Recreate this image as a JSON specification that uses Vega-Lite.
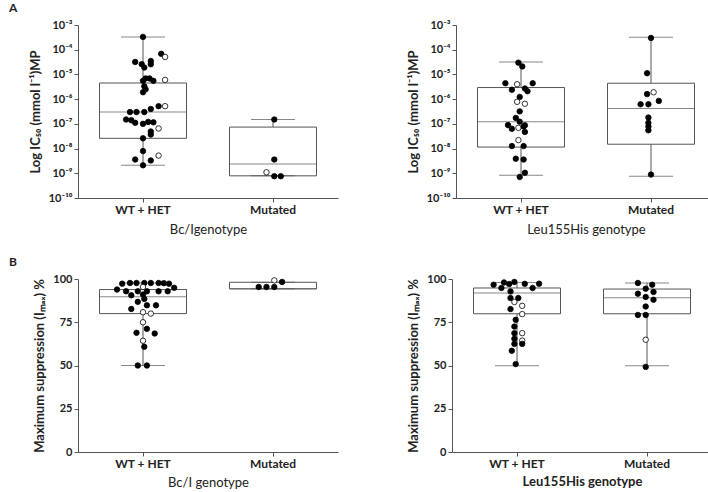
{
  "$schema": "https://vega.github.io/schema/vega-lite/v6.json",
  "padding": {"left": 9, "top": 2, "right": 0, "bottom": 0},
  "config": {
    "font": "Lato",
    "view": {"stroke": null},
    "axis": {"grid": false, "labelFont": "Lato", "labelFontWeight": "bold", "labelFontSize": 11, "labelColor": "#222", "titleFont": "Lato", "titleFontSize": 13, "titleFontWeight": "bold", "titleColor": "#222", "domainColor": "#555", "tickColor": "#555", "tickSize": 4, "labelPadding": 2, "titlePadding": 6},
    "title": {"font": "Lato", "fontSize": 12, "fontWeight": "bold", "color": "#222"},
    "point": {"opacity": 1},
    "concat": {"spacing": 69}
  },
  "datasets": {
    "box": [
      {"panel": "A1", "group": "WT + HET", "min": 2.1e-9, "q1": 2.6e-8, "median": 3.0e-7, "q3": 4.5e-6, "max": 3.3e-4},
      {"panel": "A1", "group": "Mutated", "min": 7.9e-10, "q1": 7.9e-10, "median": 2.4e-9, "q3": 7.4e-8, "max": 1.5e-7},
      {"panel": "A2", "group": "WT + HET", "min": 8.3e-10, "q1": 1.15e-8, "median": 1.23e-7, "q3": 2.95e-6, "max": 3.2e-5},
      {"panel": "A2", "group": "Mutated", "min": 7.6e-10, "q1": 1.5e-8, "median": 4.2e-7, "q3": 4.4e-6, "max": 3.2e-4},
      {"panel": "B1", "group": "WT + HET", "min": 50, "q1": 80, "median": 89.7, "q3": 93.9, "max": 97.7},
      {"panel": "B1", "group": "Mutated", "min": 94.3, "q1": 94.3, "median": 94.3, "q3": 98.1, "max": 98.1},
      {"panel": "B2", "group": "WT + HET", "min": 49.8, "q1": 79.9, "median": 91.9, "q3": 94.8, "max": 98.0},
      {"panel": "B2", "group": "Mutated", "min": 49.8, "q1": 79.9, "median": 89.2, "q3": 94.2, "max": 97.7}
    ],
    "pts": [
      {"panel": "A1", "group": "WT + HET", "jitter": 0.00, "value": 3.3e-4, "marker": "filled"},
      {"panel": "A1", "group": "WT + HET", "jitter": 0.14, "value": 6.8e-5, "marker": "filled"},
      {"panel": "A1", "group": "WT + HET", "jitter": 0.17, "value": 5.1e-5, "marker": "open"},
      {"panel": "A1", "group": "WT + HET", "jitter": -0.06, "value": 3.2e-5, "marker": "filled"},
      {"panel": "A1", "group": "WT + HET", "jitter": -0.01, "value": 2.6e-5, "marker": "filled"},
      {"panel": "A1", "group": "WT + HET", "jitter": 0.01, "value": 1.9e-5, "marker": "filled"},
      {"panel": "A1", "group": "WT + HET", "jitter": 0.06, "value": 3.5e-5, "marker": "filled"},
      {"panel": "A1", "group": "WT + HET", "jitter": 0.06, "value": 2.6e-5, "marker": "filled"},
      {"panel": "A1", "group": "WT + HET", "jitter": 0.17, "value": 6.0e-6, "marker": "open"},
      {"panel": "A1", "group": "WT + HET", "jitter": 0.00, "value": 5.5e-6, "marker": "filled"},
      {"panel": "A1", "group": "WT + HET", "jitter": 0.02, "value": 6.9e-6, "marker": "filled"},
      {"panel": "A1", "group": "WT + HET", "jitter": 0.05, "value": 6.9e-6, "marker": "filled"},
      {"panel": "A1", "group": "WT + HET", "jitter": 0.08, "value": 5.5e-6, "marker": "filled"},
      {"panel": "A1", "group": "WT + HET", "jitter": 0.01, "value": 3.3e-6, "marker": "filled"},
      {"panel": "A1", "group": "WT + HET", "jitter": 0.02, "value": 2.5e-6, "marker": "filled"},
      {"panel": "A1", "group": "WT + HET", "jitter": 0.00, "value": 1.9e-6, "marker": "filled"},
      {"panel": "A1", "group": "WT + HET", "jitter": -0.10, "value": 3.0e-7, "marker": "filled"},
      {"panel": "A1", "group": "WT + HET", "jitter": -0.05, "value": 3.0e-7, "marker": "filled"},
      {"panel": "A1", "group": "WT + HET", "jitter": 0.01, "value": 3.0e-7, "marker": "filled"},
      {"panel": "A1", "group": "WT + HET", "jitter": 0.06, "value": 4.0e-7, "marker": "filled"},
      {"panel": "A1", "group": "WT + HET", "jitter": 0.12, "value": 5.2e-7, "marker": "filled"},
      {"panel": "A1", "group": "WT + HET", "jitter": 0.17, "value": 5.2e-7, "marker": "open"},
      {"panel": "A1", "group": "WT + HET", "jitter": -0.13, "value": 1.5e-7, "marker": "filled"},
      {"panel": "A1", "group": "WT + HET", "jitter": -0.09, "value": 1.4e-7, "marker": "filled"},
      {"panel": "A1", "group": "WT + HET", "jitter": -0.06, "value": 1.1e-7, "marker": "filled"},
      {"panel": "A1", "group": "WT + HET", "jitter": 0.00, "value": 1.0e-7, "marker": "filled"},
      {"panel": "A1", "group": "WT + HET", "jitter": 0.04, "value": 1.2e-7, "marker": "filled"},
      {"panel": "A1", "group": "WT + HET", "jitter": 0.08, "value": 1.15e-7, "marker": "filled"},
      {"panel": "A1", "group": "WT + HET", "jitter": 0.12, "value": 6.5e-8, "marker": "open"},
      {"panel": "A1", "group": "WT + HET", "jitter": 0.06, "value": 4.9e-8, "marker": "filled"},
      {"panel": "A1", "group": "WT + HET", "jitter": 0.06, "value": 3.7e-8, "marker": "filled"},
      {"panel": "A1", "group": "WT + HET", "jitter": 0.00, "value": 2.6e-8, "marker": "filled"},
      {"panel": "A1", "group": "WT + HET", "jitter": 0.00, "value": 7.9e-9, "marker": "filled"},
      {"panel": "A1", "group": "WT + HET", "jitter": -0.06, "value": 3.6e-9, "marker": "filled"},
      {"panel": "A1", "group": "WT + HET", "jitter": 0.06, "value": 3.3e-9, "marker": "filled"},
      {"panel": "A1", "group": "WT + HET", "jitter": 0.12, "value": 5.2e-9, "marker": "open"},
      {"panel": "A1", "group": "WT + HET", "jitter": 0.00, "value": 2.1e-9, "marker": "filled"},
      {"panel": "A1", "group": "Mutated", "jitter": 0.01, "value": 1.5e-7, "marker": "filled"},
      {"panel": "A1", "group": "Mutated", "jitter": 0.01, "value": 3.6e-9, "marker": "filled"},
      {"panel": "A1", "group": "Mutated", "jitter": -0.05, "value": 1.1e-9, "marker": "open"},
      {"panel": "A1", "group": "Mutated", "jitter": 0.01, "value": 7.6e-10, "marker": "filled"},
      {"panel": "A1", "group": "Mutated", "jitter": 0.06, "value": 7.6e-10, "marker": "filled"},

      {"panel": "A2", "group": "WT + HET", "jitter": -0.02, "value": 3.0e-5, "marker": "filled"},
      {"panel": "A2", "group": "WT + HET", "jitter": 0.01, "value": 2.1e-5, "marker": "filled"},
      {"panel": "A2", "group": "WT + HET", "jitter": -0.12, "value": 4.4e-6, "marker": "filled"},
      {"panel": "A2", "group": "WT + HET", "jitter": -0.03, "value": 4.0e-6, "marker": "open"},
      {"panel": "A2", "group": "WT + HET", "jitter": 0.09, "value": 4.4e-6, "marker": "filled"},
      {"panel": "A2", "group": "WT + HET", "jitter": -0.07, "value": 2.4e-6, "marker": "filled"},
      {"panel": "A2", "group": "WT + HET", "jitter": 0.03, "value": 2.7e-6, "marker": "filled"},
      {"panel": "A2", "group": "WT + HET", "jitter": 0.05, "value": 2.1e-6, "marker": "filled"},
      {"panel": "A2", "group": "WT + HET", "jitter": -0.01, "value": 1.23e-6, "marker": "filled"},
      {"panel": "A2", "group": "WT + HET", "jitter": -0.03, "value": 7.8e-7, "marker": "open"},
      {"panel": "A2", "group": "WT + HET", "jitter": 0.03, "value": 6.5e-7, "marker": "open"},
      {"panel": "A2", "group": "WT + HET", "jitter": -0.01, "value": 3.2e-7, "marker": "filled"},
      {"panel": "A2", "group": "WT + HET", "jitter": -0.04, "value": 1.74e-7, "marker": "filled"},
      {"panel": "A2", "group": "WT + HET", "jitter": -0.01, "value": 1.23e-7, "marker": "filled"},
      {"panel": "A2", "group": "WT + HET", "jitter": -0.10, "value": 8.9e-8, "marker": "filled"},
      {"panel": "A2", "group": "WT + HET", "jitter": -0.02, "value": 6.9e-8, "marker": "open"},
      {"panel": "A2", "group": "WT + HET", "jitter": -0.07, "value": 6.3e-8, "marker": "filled"},
      {"panel": "A2", "group": "WT + HET", "jitter": 0.02, "value": 7.8e-8, "marker": "filled"},
      {"panel": "A2", "group": "WT + HET", "jitter": 0.03, "value": 8.7e-8, "marker": "filled"},
      {"panel": "A2", "group": "WT + HET", "jitter": 0.03, "value": 4.7e-8, "marker": "filled"},
      {"panel": "A2", "group": "WT + HET", "jitter": -0.02, "value": 2.2e-8, "marker": "open"},
      {"panel": "A2", "group": "WT + HET", "jitter": -0.07, "value": 1.26e-8, "marker": "filled"},
      {"panel": "A2", "group": "WT + HET", "jitter": 0.02, "value": 1.26e-8, "marker": "filled"},
      {"panel": "A2", "group": "WT + HET", "jitter": -0.04, "value": 3.9e-9, "marker": "filled"},
      {"panel": "A2", "group": "WT + HET", "jitter": 0.02, "value": 3.6e-9, "marker": "filled"},
      {"panel": "A2", "group": "WT + HET", "jitter": 0.03, "value": 1.05e-9, "marker": "filled"},
      {"panel": "A2", "group": "WT + HET", "jitter": -0.01, "value": 7.1e-10, "marker": "filled"},
      {"panel": "A2", "group": "Mutated", "jitter": 0.00, "value": 3.0e-4, "marker": "filled"},
      {"panel": "A2", "group": "Mutated", "jitter": -0.03, "value": 1.12e-5, "marker": "filled"},
      {"panel": "A2", "group": "Mutated", "jitter": -0.03, "value": 1.6e-6, "marker": "filled"},
      {"panel": "A2", "group": "Mutated", "jitter": 0.02, "value": 1.9e-6, "marker": "open"},
      {"panel": "A2", "group": "Mutated", "jitter": 0.06, "value": 8.5e-7, "marker": "filled"},
      {"panel": "A2", "group": "Mutated", "jitter": -0.08, "value": 6.2e-7, "marker": "filled"},
      {"panel": "A2", "group": "Mutated", "jitter": -0.02, "value": 6.2e-7, "marker": "filled"},
      {"panel": "A2", "group": "Mutated", "jitter": -0.02, "value": 1.8e-7, "marker": "filled"},
      {"panel": "A2", "group": "Mutated", "jitter": -0.02, "value": 1.1e-7, "marker": "filled"},
      {"panel": "A2", "group": "Mutated", "jitter": -0.02, "value": 7.8e-8, "marker": "filled"},
      {"panel": "A2", "group": "Mutated", "jitter": -0.02, "value": 5.5e-8, "marker": "filled"},
      {"panel": "A2", "group": "Mutated", "jitter": 0.00, "value": 8.9e-10, "marker": "filled"},

      {"panel": "B1", "group": "WT + HET", "jitter": -0.16, "value": 97.3, "marker": "filled"},
      {"panel": "B1", "group": "WT + HET", "jitter": -0.10, "value": 97.7, "marker": "filled"},
      {"panel": "B1", "group": "WT + HET", "jitter": -0.05, "value": 97.7, "marker": "filled"},
      {"panel": "B1", "group": "WT + HET", "jitter": 0.01, "value": 97.7, "marker": "filled"},
      {"panel": "B1", "group": "WT + HET", "jitter": 0.06, "value": 97.7, "marker": "filled"},
      {"panel": "B1", "group": "WT + HET", "jitter": 0.12, "value": 97.7, "marker": "filled"},
      {"panel": "B1", "group": "WT + HET", "jitter": 0.16, "value": 97.6, "marker": "filled"},
      {"panel": "B1", "group": "WT + HET", "jitter": 0.20, "value": 97.3, "marker": "filled"},
      {"panel": "B1", "group": "WT + HET", "jitter": -0.20, "value": 93.9, "marker": "filled"},
      {"panel": "B1", "group": "WT + HET", "jitter": 0.24, "value": 94.9, "marker": "filled"},
      {"panel": "B1", "group": "WT + HET", "jitter": -0.13, "value": 92.9, "marker": "filled"},
      {"panel": "B1", "group": "WT + HET", "jitter": -0.04, "value": 92.9, "marker": "filled"},
      {"panel": "B1", "group": "WT + HET", "jitter": 0.03, "value": 92.9, "marker": "filled"},
      {"panel": "B1", "group": "WT + HET", "jitter": 0.12, "value": 92.9, "marker": "filled"},
      {"panel": "B1", "group": "WT + HET", "jitter": 0.19, "value": 92.9, "marker": "filled"},
      {"panel": "B1", "group": "WT + HET", "jitter": 0.00, "value": 95.4, "marker": "open"},
      {"panel": "B1", "group": "WT + HET", "jitter": -0.09, "value": 90.6, "marker": "filled"},
      {"panel": "B1", "group": "WT + HET", "jitter": 0.00, "value": 91.0, "marker": "filled"},
      {"panel": "B1", "group": "WT + HET", "jitter": 0.01, "value": 88.5, "marker": "filled"},
      {"panel": "B1", "group": "WT + HET", "jitter": -0.04, "value": 86.8, "marker": "filled"},
      {"panel": "B1", "group": "WT + HET", "jitter": 0.03, "value": 84.8, "marker": "filled"},
      {"panel": "B1", "group": "WT + HET", "jitter": 0.10, "value": 84.8, "marker": "filled"},
      {"panel": "B1", "group": "WT + HET", "jitter": -0.09, "value": 82.7, "marker": "filled"},
      {"panel": "B1", "group": "WT + HET", "jitter": 0.00, "value": 80.8, "marker": "open"},
      {"panel": "B1", "group": "WT + HET", "jitter": 0.06, "value": 80.0, "marker": "open"},
      {"panel": "B1", "group": "WT + HET", "jitter": 0.00, "value": 75.0, "marker": "open"},
      {"panel": "B1", "group": "WT + HET", "jitter": -0.05, "value": 68.9, "marker": "filled"},
      {"panel": "B1", "group": "WT + HET", "jitter": 0.03, "value": 71.2, "marker": "filled"},
      {"panel": "B1", "group": "WT + HET", "jitter": 0.09, "value": 68.5, "marker": "filled"},
      {"panel": "B1", "group": "WT + HET", "jitter": 0.00, "value": 64.3, "marker": "open"},
      {"panel": "B1", "group": "WT + HET", "jitter": 0.01, "value": 60.8, "marker": "filled"},
      {"panel": "B1", "group": "WT + HET", "jitter": -0.04, "value": 50.0, "marker": "filled"},
      {"panel": "B1", "group": "WT + HET", "jitter": 0.03, "value": 50.0, "marker": "filled"},
      {"panel": "B1", "group": "Mutated", "jitter": -0.11, "value": 95.4, "marker": "filled"},
      {"panel": "B1", "group": "Mutated", "jitter": -0.05, "value": 95.4, "marker": "filled"},
      {"panel": "B1", "group": "Mutated", "jitter": 0.01, "value": 95.4, "marker": "filled"},
      {"panel": "B1", "group": "Mutated", "jitter": 0.07, "value": 98.3, "marker": "filled"},
      {"panel": "B1", "group": "Mutated", "jitter": 0.01, "value": 99.2, "marker": "open"},

      {"panel": "B2", "group": "WT + HET", "jitter": -0.18, "value": 96.7, "marker": "filled"},
      {"panel": "B2", "group": "WT + HET", "jitter": -0.10, "value": 98.0, "marker": "filled"},
      {"panel": "B2", "group": "WT + HET", "jitter": -0.06, "value": 97.1, "marker": "filled"},
      {"panel": "B2", "group": "WT + HET", "jitter": -0.02, "value": 98.3, "marker": "filled"},
      {"panel": "B2", "group": "WT + HET", "jitter": 0.06, "value": 97.2, "marker": "filled"},
      {"panel": "B2", "group": "WT + HET", "jitter": 0.17, "value": 97.3, "marker": "filled"},
      {"panel": "B2", "group": "WT + HET", "jitter": -0.12, "value": 94.8, "marker": "filled"},
      {"panel": "B2", "group": "WT + HET", "jitter": -0.05, "value": 92.8, "marker": "filled"},
      {"panel": "B2", "group": "WT + HET", "jitter": 0.12, "value": 94.8, "marker": "filled"},
      {"panel": "B2", "group": "WT + HET", "jitter": -0.05, "value": 89.0, "marker": "filled"},
      {"panel": "B2", "group": "WT + HET", "jitter": 0.01, "value": 89.0, "marker": "filled"},
      {"panel": "B2", "group": "WT + HET", "jitter": -0.02, "value": 86.7, "marker": "open"},
      {"panel": "B2", "group": "WT + HET", "jitter": 0.04, "value": 84.5, "marker": "open"},
      {"panel": "B2", "group": "WT + HET", "jitter": -0.05, "value": 82.6, "marker": "filled"},
      {"panel": "B2", "group": "WT + HET", "jitter": 0.04, "value": 79.7, "marker": "open"},
      {"panel": "B2", "group": "WT + HET", "jitter": -0.01, "value": 76.4, "marker": "filled"},
      {"panel": "B2", "group": "WT + HET", "jitter": -0.02, "value": 72.5, "marker": "filled"},
      {"panel": "B2", "group": "WT + HET", "jitter": -0.02, "value": 68.7, "marker": "filled"},
      {"panel": "B2", "group": "WT + HET", "jitter": 0.04, "value": 68.7, "marker": "open"},
      {"panel": "B2", "group": "WT + HET", "jitter": -0.02, "value": 65.4, "marker": "filled"},
      {"panel": "B2", "group": "WT + HET", "jitter": 0.04, "value": 64.4, "marker": "open"},
      {"panel": "B2", "group": "WT + HET", "jitter": -0.02, "value": 62.5, "marker": "filled"},
      {"panel": "B2", "group": "WT + HET", "jitter": 0.04, "value": 62.5, "marker": "filled"},
      {"panel": "B2", "group": "WT + HET", "jitter": -0.04, "value": 58.5, "marker": "filled"},
      {"panel": "B2", "group": "WT + HET", "jitter": -0.01, "value": 50.8, "marker": "filled"},
      {"panel": "B2", "group": "Mutated", "jitter": -0.07, "value": 97.7, "marker": "filled"},
      {"panel": "B2", "group": "Mutated", "jitter": 0.04, "value": 96.7, "marker": "filled"},
      {"panel": "B2", "group": "Mutated", "jitter": -0.01, "value": 94.4, "marker": "filled"},
      {"panel": "B2", "group": "Mutated", "jitter": -0.07, "value": 91.5, "marker": "filled"},
      {"panel": "B2", "group": "Mutated", "jitter": 0.05, "value": 92.5, "marker": "filled"},
      {"panel": "B2", "group": "Mutated", "jitter": -0.01, "value": 89.6, "marker": "filled"},
      {"panel": "B2", "group": "Mutated", "jitter": 0.05, "value": 88.0, "marker": "filled"},
      {"panel": "B2", "group": "Mutated", "jitter": -0.01, "value": 84.1, "marker": "filled"},
      {"panel": "B2", "group": "Mutated", "jitter": -0.07, "value": 79.2, "marker": "filled"},
      {"panel": "B2", "group": "Mutated", "jitter": -0.01, "value": 79.2, "marker": "filled"},
      {"panel": "B2", "group": "Mutated", "jitter": -0.01, "value": 64.9, "marker": "open"},
      {"panel": "B2", "group": "Mutated", "jitter": -0.01, "value": 49.2, "marker": "filled"}
    ]
  },
  "vconcat": [
    {
      "hconcat": [
        {
          "width": 260, "height": 173,
          "title": {"text": "A", "anchor": "start", "frame": "group", "dx": -69, "offset": 4},
          "encoding": {"x": {"field": "group", "type": "nominal", "scale": {"domain": ["WT + HET", "Mutated"], "paddingInner": 0, "paddingOuter": 0}, "axis": {"title": "Bc/Igenotype", "labelAngle": 0, "titleFontWeight": "normal", "labelFontSize": 12, "titlePadding": 8}}},
          "layer": [
            {"data": {"name": "box"}, "transform": [{"filter": "datum.panel === 'A1'"}], "mark": {"type": "rule", "color": "#555"}, "encoding": {"y": {"field": "min", "type": "quantitative", "scale": {"type": "log", "domain": [1e-10, 1e-3], "nice": false}, "axis": {"title": "Log IC₅₀ (mmol l⁻¹)MP", "values": [1e-10, 1e-9, 1e-8, 1e-7, 1e-6, 1e-5, 1e-4, 1e-3], "labelExpr": "'10⁻' + ['', '¹', '²', '³', '⁴', '⁵', '⁶', '⁷', '⁸', '⁹', '¹⁰'][round(-log(datum.value) / LN10)]"}}, "y2": {"field": "max"}}},
            {"data": {"name": "box"}, "transform": [{"filter": "datum.panel === 'A1'"}], "mark": {"type": "bar", "width": 87, "fill": "white", "stroke": "#555", "strokeWidth": 1}, "encoding": {"y": {"field": "q1", "type": "quantitative"}, "y2": {"field": "q3"}}},
            {"data": {"name": "box"}, "transform": [{"filter": "datum.panel === 'A1'"}], "mark": {"type": "tick", "orient": "horizontal", "size": 87, "thickness": 1, "color": "#555"}, "encoding": {"y": {"field": "median", "type": "quantitative"}}},
            {"data": {"name": "box"}, "transform": [{"filter": "datum.panel === 'A1'"}], "mark": {"type": "tick", "orient": "horizontal", "size": 44, "thickness": 1, "color": "#555"}, "encoding": {"y": {"field": "max", "type": "quantitative"}}},
            {"data": {"name": "box"}, "transform": [{"filter": "datum.panel === 'A1'"}], "mark": {"type": "tick", "orient": "horizontal", "size": 44, "thickness": 1, "color": "#555"}, "encoding": {"y": {"field": "min", "type": "quantitative"}}},
            {"data": {"name": "pts"}, "transform": [{"filter": "datum.panel === 'A1'"}], "mark": {"type": "point", "filled": true, "opacity": 1, "size": 30, "stroke": "black", "strokeWidth": 0.8}, "encoding": {"y": {"field": "value", "type": "quantitative"}, "xOffset": {"field": "jitter", "type": "quantitative", "scale": {"domain": [-0.5, 0.5]}}, "fill": {"field": "marker", "type": "nominal", "scale": {"domain": ["filled", "open"], "range": ["black", "white"]}, "legend": null}}}
          ]
        },
        {
          "width": 260, "height": 173,
          "encoding": {"x": {"field": "group", "type": "nominal", "scale": {"domain": ["WT + HET", "Mutated"], "paddingInner": 0, "paddingOuter": 0}, "axis": {"title": "Leu155His genotype", "labelAngle": 0, "titleFontWeight": "normal", "labelFontSize": 12, "titlePadding": 8}}},
          "layer": [
            {"data": {"name": "box"}, "transform": [{"filter": "datum.panel === 'A2'"}], "mark": {"type": "rule", "color": "#555"}, "encoding": {"y": {"field": "min", "type": "quantitative", "scale": {"type": "log", "domain": [1e-10, 1e-3], "nice": false}, "axis": {"title": "Log IC₅₀ (mmol l⁻¹)MP", "values": [1e-10, 1e-9, 1e-8, 1e-7, 1e-6, 1e-5, 1e-4, 1e-3], "labelExpr": "'10⁻' + ['', '¹', '²', '³', '⁴', '⁵', '⁶', '⁷', '⁸', '⁹', '¹⁰'][round(-log(datum.value) / LN10)]"}}, "y2": {"field": "max"}}},
            {"data": {"name": "box"}, "transform": [{"filter": "datum.panel === 'A2'"}], "mark": {"type": "bar", "width": 87, "fill": "white", "stroke": "#555", "strokeWidth": 1}, "encoding": {"y": {"field": "q1", "type": "quantitative"}, "y2": {"field": "q3"}}},
            {"data": {"name": "box"}, "transform": [{"filter": "datum.panel === 'A2'"}], "mark": {"type": "tick", "orient": "horizontal", "size": 87, "thickness": 1, "color": "#555"}, "encoding": {"y": {"field": "median", "type": "quantitative"}}},
            {"data": {"name": "box"}, "transform": [{"filter": "datum.panel === 'A2'"}], "mark": {"type": "tick", "orient": "horizontal", "size": 44, "thickness": 1, "color": "#555"}, "encoding": {"y": {"field": "max", "type": "quantitative"}}},
            {"data": {"name": "box"}, "transform": [{"filter": "datum.panel === 'A2'"}], "mark": {"type": "tick", "orient": "horizontal", "size": 44, "thickness": 1, "color": "#555"}, "encoding": {"y": {"field": "min", "type": "quantitative"}}},
            {"data": {"name": "pts"}, "transform": [{"filter": "datum.panel === 'A2'"}], "mark": {"type": "point", "filled": true, "opacity": 1, "size": 30, "stroke": "black", "strokeWidth": 0.8}, "encoding": {"y": {"field": "value", "type": "quantitative"}, "xOffset": {"field": "jitter", "type": "quantitative", "scale": {"domain": [-0.5, 0.5]}}, "fill": {"field": "marker", "type": "nominal", "scale": {"domain": ["filled", "open"], "range": ["black", "white"]}, "legend": null}}}
          ]
        }
      ]
    },
    {
      "hconcat": [
        {
          "width": 260, "height": 173,
          "title": {"text": "B", "anchor": "start", "frame": "group", "dx": -69, "offset": 4},
          "encoding": {"x": {"field": "group", "type": "nominal", "scale": {"domain": ["WT + HET", "Mutated"], "paddingInner": 0, "paddingOuter": 0}, "axis": {"title": "Bc/I genotype", "labelAngle": 0, "titleFontWeight": "normal", "labelFontSize": 12, "titlePadding": 7}}},
          "layer": [
            {"data": {"name": "box"}, "transform": [{"filter": "datum.panel === 'B1'"}], "mark": {"type": "rule", "color": "#555"}, "encoding": {"y": {"field": "min", "type": "quantitative", "scale": {"domain": [0, 100], "nice": false}, "axis": {"title": "Maximum suppression (Iₘₐₓ) %", "values": [0, 25, 50, 75, 100]}}, "y2": {"field": "max"}}},
            {"data": {"name": "box"}, "transform": [{"filter": "datum.panel === 'B1'"}], "mark": {"type": "bar", "width": 87, "fill": "white", "stroke": "#555", "strokeWidth": 1}, "encoding": {"y": {"field": "q1", "type": "quantitative"}, "y2": {"field": "q3"}}},
            {"data": {"name": "box"}, "transform": [{"filter": "datum.panel === 'B1'"}], "mark": {"type": "tick", "orient": "horizontal", "size": 87, "thickness": 1, "color": "#555"}, "encoding": {"y": {"field": "median", "type": "quantitative"}}},
            {"data": {"name": "box"}, "transform": [{"filter": "datum.panel === 'B1'"}], "mark": {"type": "tick", "orient": "horizontal", "size": 44, "thickness": 1, "color": "#555"}, "encoding": {"y": {"field": "max", "type": "quantitative"}}},
            {"data": {"name": "box"}, "transform": [{"filter": "datum.panel === 'B1'"}], "mark": {"type": "tick", "orient": "horizontal", "size": 44, "thickness": 1, "color": "#555"}, "encoding": {"y": {"field": "min", "type": "quantitative"}}},
            {"data": {"name": "pts"}, "transform": [{"filter": "datum.panel === 'B1'"}], "mark": {"type": "point", "filled": true, "opacity": 1, "size": 30, "stroke": "black", "strokeWidth": 0.8}, "encoding": {"y": {"field": "value", "type": "quantitative"}, "xOffset": {"field": "jitter", "type": "quantitative", "scale": {"domain": [-0.5, 0.5]}}, "fill": {"field": "marker", "type": "nominal", "scale": {"domain": ["filled", "open"], "range": ["black", "white"]}, "legend": null}}}
          ]
        },
        {
          "width": 260, "height": 173,
          "encoding": {"x": {"field": "group", "type": "nominal", "scale": {"domain": ["WT + HET", "Mutated"], "paddingInner": 0, "paddingOuter": 0}, "axis": {"title": "Leu155His genotype", "labelAngle": 0, "titleFontWeight": "bold", "labelFontSize": 12, "titlePadding": 6}}},
          "layer": [
            {"data": {"name": "box"}, "transform": [{"filter": "datum.panel === 'B2'"}], "mark": {"type": "rule", "color": "#555"}, "encoding": {"y": {"field": "min", "type": "quantitative", "scale": {"domain": [0, 100], "nice": false}, "axis": {"title": "Maximum suppression (Iₘₐₓ) %", "values": [0, 25, 50, 75, 100]}}, "y2": {"field": "max"}}},
            {"data": {"name": "box"}, "transform": [{"filter": "datum.panel === 'B2'"}], "mark": {"type": "bar", "width": 87, "fill": "white", "stroke": "#555", "strokeWidth": 1}, "encoding": {"y": {"field": "q1", "type": "quantitative"}, "y2": {"field": "q3"}}},
            {"data": {"name": "box"}, "transform": [{"filter": "datum.panel === 'B2'"}], "mark": {"type": "tick", "orient": "horizontal", "size": 87, "thickness": 1, "color": "#555"}, "encoding": {"y": {"field": "median", "type": "quantitative"}}},
            {"data": {"name": "box"}, "transform": [{"filter": "datum.panel === 'B2'"}], "mark": {"type": "tick", "orient": "horizontal", "size": 44, "thickness": 1, "color": "#555"}, "encoding": {"y": {"field": "max", "type": "quantitative"}}},
            {"data": {"name": "box"}, "transform": [{"filter": "datum.panel === 'B2'"}], "mark": {"type": "tick", "orient": "horizontal", "size": 44, "thickness": 1, "color": "#555"}, "encoding": {"y": {"field": "min", "type": "quantitative"}}},
            {"data": {"name": "pts"}, "transform": [{"filter": "datum.panel === 'B2'"}], "mark": {"type": "point", "filled": true, "opacity": 1, "size": 30, "stroke": "black", "strokeWidth": 0.8}, "encoding": {"y": {"field": "value", "type": "quantitative"}, "xOffset": {"field": "jitter", "type": "quantitative", "scale": {"domain": [-0.5, 0.5]}}, "fill": {"field": "marker", "type": "nominal", "scale": {"domain": ["filled", "open"], "range": ["black", "white"]}, "legend": null}}}
          ]
        }
      ]
    }
  ],
  "spacing": 20
}
